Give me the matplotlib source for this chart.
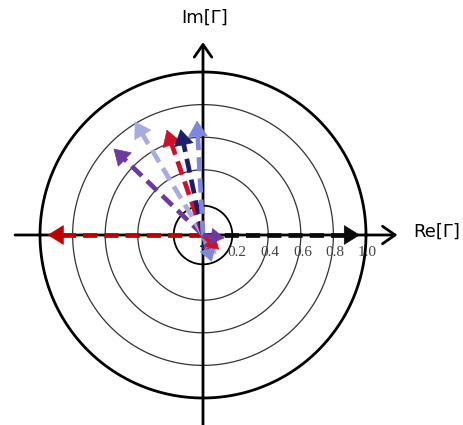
import numpy as np
import matplotlib.pyplot as plt

# Reflexionsfaktoren als Zeiger (Betrag, Winkel in Grad)
ring_radii = [0.18, 0.4, 0.6, 0.8, 1.0]
tick_values = [0.2, 0.4, 0.6, 0.8, 1.0]
tick_labels = ["0.2", "0.4", "0.6", "0.8", "1.0"]

colors = ["#0a0a0a", "#c00000", "#6a3aa0", "#a9aae2", "#d0102a", "#1c1f66", "#7f86dc"]
magnitudes = [0.98, 0.97, 0.78, 0.83, 0.70, 0.68, 0.72]
angles = [0, 180, 136, 121, 109, 102, 93]

small_colors = ["#a9aae2", "#1c1f66", "#7f86dc", "#d0102a", "#6a3aa0"]
small_magnitudes = [0.16, 0.15, 0.19, 0.15, 0.15]
small_angles = [-55, -62, -72, -42, -8]

S = 163.0  # Pixel pro Einheit
cx, cy = 203, 235

fig = plt.figure(figsize=(4.63, 4.25), dpi=100)
ax = fig.add_axes([0, 0, 1, 1])
ax.set_xlim(-cx / S, (463 - cx) / S)
ax.set_ylim(-(425 - cy) / S, cy / S)
ax.set_aspect("equal")
ax.axis("off")

t = np.linspace(0, 2 * np.pi, 400)
for r in ring_radii:
    if r == 1.0:
        lw, c = 2.0, "black"
    elif r < 0.3:
        lw, c = 1.3, "black"
    else:
        lw, c = 0.9, "#333333"
    ax.plot(r * np.cos(t), r * np.sin(t), color=c, lw=lw, zorder=1)

# Achsen
ax.annotate("", xy=(1.21, 0), xytext=(-1.17, 0),
            arrowprops=dict(arrowstyle="->,head_length=0.5,head_width=0.35",
                            color="black", lw=2.0, mutation_scale=18), zorder=2)
ax.annotate("", xy=(0, 1.2), xytext=(0, -1.2),
            arrowprops=dict(arrowstyle="->,head_length=0.5,head_width=0.35",
                            color="black", lw=2.0, mutation_scale=18), zorder=2)
ax.text(1.29, 0.02, "Re[Γ]", fontsize=13, family="DejaVu Sans", va="center", ha="left")
ax.text(0.01, 1.33, "Im[Γ]", fontsize=13, family="DejaVu Sans", va="center", ha="center")

for v, lab in zip(tick_values, tick_labels):
    ax.text(v + 0.01, -0.105, lab, fontsize=11, family="Liberation Serif",
            color="#444444", ha="center", va="center")


def pointer(mag, ang, color, lw=3.4, ms=24, z=3):
    a = np.deg2rad(ang)
    tip = np.array([mag * np.cos(a), mag * np.sin(a)])
    back = tip * (1 - 0.09 / mag) if mag > 0.3 else tip * 0.5
    ax.plot([0, back[0]], [0, back[1]], color=color, lw=lw,
            dashes=(3.0, 1.5), solid_capstyle="butt", zorder=z)
    ax.annotate("", xy=tip, xytext=back,
                arrowprops=dict(arrowstyle="-|>,head_length=0.45,head_width=0.28",
                                color=color, lw=0.5, mutation_scale=ms),
                zorder=z)


for m, a, c in zip(magnitudes, angles, colors):
    pointer(m, a, c)
for m, a, c in zip(small_magnitudes, small_angles, small_colors):
    pointer(m, a, c, lw=3.4, ms=20, z=4)

fig.savefig("out.png", dpi=100)
